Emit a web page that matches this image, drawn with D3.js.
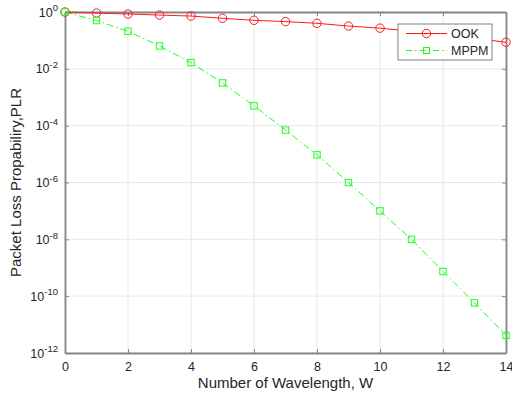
<!DOCTYPE html>
<html>
<head>
<meta charset="utf-8">
<script src="https://cdn.jsdelivr.net/npm/d3@7"></script>
<style>
  html, body { margin: 0; padding: 0; background: #fff; }
  svg { display: block; font-family: "Liberation Sans", Arial, Helvetica, sans-serif; }
</style>
</head>
<body>
<svg id="chart" width="512" height="400"></svg>
<script>
// ---- data ----
const wavelengths = [0, 1, 2, 3, 4, 5, 6, 7, 8, 9, 10, 11, 12, 13, 14];
const ookPLR = [1, 0.92, 0.85, 0.78, 0.72, 0.60, 0.51, 0.46, 0.40, 0.32, 0.27, 0.21, 0.16, 0.12, 0.086];
const mppmPLR = [1, 0.5, 0.21, 0.064, 0.0166, 0.0032, 5.0e-4, 7.0e-5, 9.4e-6, 1.0e-6, 1.0e-7, 1.0e-8, 7.4e-10, 5.8e-11, 4.2e-12];
const xTicks = [0, 2, 4, 6, 8, 10, 12, 14];
const yTickExponents = [0, -2, -4, -6, -8, -10, -12];
const seriesNames = ["OOK", "MPPM"];

// ---- layout ----
const svg = d3.select("#chart");
const L = 65, R = 506, T = 12, B = 353;
const x = d3.scaleLinear().domain([0, 14]).range([L, R]);
const y = d3.scaleLog().domain([1e-12, 1]).range([B, T]);
const yTicks = yTickExponents.map(e => Math.pow(10, e));

const axisColor = "#868686";
const textColor = "#262626";
const gridColor = "#e8e8e8";

// grid
const grid = svg.append("g");
grid.selectAll(".gx").data(xTicks).enter().append("line")
  .attr("x1", d => x(d)).attr("x2", d => x(d)).attr("y1", T).attr("y2", B)
  .attr("stroke", gridColor).attr("stroke-width", 1);
grid.selectAll(".gy").data(yTicks).enter().append("line")
  .attr("x1", L).attr("x2", R).attr("y1", d => y(d)).attr("y2", d => y(d))
  .attr("stroke", gridColor).attr("stroke-width", 1);

// axes (inward ticks, MATLAB box)
const tickLen = 4;
const xAxisB = d3.axisBottom(x).tickValues(xTicks).tickSizeInner(-tickLen).tickSizeOuter(0).tickPadding(9);
const gxB = svg.append("g").attr("transform", `translate(0,${B})`).call(xAxisB);
const xAxisT = d3.axisTop(x).tickValues(xTicks).tickSizeInner(-tickLen).tickSizeOuter(0).tickFormat("");
const gxT = svg.append("g").attr("transform", `translate(0,${T})`).call(xAxisT);
const yAxisL = d3.axisLeft(y).tickValues(yTicks).tickSizeInner(-tickLen).tickSizeOuter(0).tickPadding(8).tickFormat("");
const gyL = svg.append("g").attr("transform", `translate(${L},0)`).call(yAxisL);
const yAxisR = d3.axisRight(y).tickValues(yTicks).tickSizeInner(-tickLen).tickSizeOuter(0).tickFormat("");
const gyR = svg.append("g").attr("transform", `translate(${R},0)`).call(yAxisR);

[gxB, gxT, gyL, gyR].forEach(g => {
  g.select(".domain").attr("stroke", axisColor).attr("stroke-width", 1.8);
  g.selectAll(".tick line").attr("stroke", axisColor).attr("stroke-width", 1);
});
gxB.selectAll(".tick text").attr("fill", textColor).attr("font-size", 12.5)
  .attr("font-family", "Liberation Sans, Arial, sans-serif");

// y tick labels with superscripts
gyL.selectAll(".tick").each(function(d, i) {
  const t = d3.select(this).append("text")
    .attr("x", -7).attr("dy", "0.32em").attr("text-anchor", "end")
    .attr("fill", textColor).attr("font-size", 12.5);
  t.append("tspan").text("10");
  t.append("tspan").attr("dy", "-0.55em").attr("font-size", 9.5).text(String(yTickExponents[i]));
});

// series lines
const line = d3.line().x((d, i) => x(wavelengths[i])).y(d => y(d));
const plot = svg.append("g");
plot.append("path").datum(ookPLR).attr("d", line)
  .attr("fill", "none").attr("stroke", "#ff1a1a").attr("stroke-width", 1);
plot.append("path").datum(mppmPLR).attr("d", line)
  .attr("fill", "none").attr("stroke", "#1aff1a").attr("stroke-width", 1)
  .attr("stroke-dasharray", "7,3,1.5,3");

// markers
plot.selectAll(".ook").data(ookPLR).enter().append("circle")
  .attr("cx", (d, i) => x(wavelengths[i])).attr("cy", d => y(d)).attr("r", 4.2)
  .attr("fill", "none").attr("stroke", "#ff1a1a").attr("stroke-width", 1);
const sq = 6.4;
plot.selectAll(".mppm").data(mppmPLR).enter().append("rect")
  .attr("x", (d, i) => x(wavelengths[i]) - sq / 2).attr("y", d => y(d) - sq / 2)
  .attr("width", sq).attr("height", sq)
  .attr("fill", "none").attr("stroke", "#1aff1a").attr("stroke-width", 1);

// axis labels
svg.append("text").attr("x", (L + R) / 2).attr("y", 388).attr("text-anchor", "middle")
  .attr("fill", textColor).attr("font-size", 15).text("Number of Wavelength, W");
svg.append("text").attr("transform", `translate(21,${(T + B) / 2}) rotate(-90)`)
  .attr("text-anchor", "middle").attr("fill", textColor).attr("font-size", 15)
  .text("Packet Loss Propabiliry,PLR");

// legend
const lg = svg.append("g").attr("transform", "translate(398,24)");
lg.append("rect").attr("x", 0).attr("y", 0).attr("width", 94).attr("height", 36)
  .attr("fill", "#fff").attr("stroke", "#808080").attr("stroke-width", 1);
const legendStyles = [
  { color: "#ff1a1a", dash: null, marker: "circle" },
  { color: "#1aff1a", dash: "6,3,1.5,3", marker: "square" }
];
seriesNames.forEach((name, i) => {
  const cy = 9.5 + i * 17;
  const st = legendStyles[i];
  lg.append("line").attr("x1", 8).attr("x2", 49).attr("y1", cy).attr("y2", cy)
    .attr("stroke", st.color).attr("stroke-width", 1)
    .attr("stroke-dasharray", st.dash);
  if (st.marker === "circle") {
    lg.append("circle").attr("cx", 28.5).attr("cy", cy).attr("r", 4.2)
      .attr("fill", "none").attr("stroke", st.color);
  } else {
    lg.append("rect").attr("x", 28.5 - 3).attr("y", cy - 3).attr("width", 6).attr("height", 6)
      .attr("fill", "none").attr("stroke", st.color);
  }
  lg.append("text").attr("x", 53).attr("y", cy).attr("dy", "0.35em")
    .attr("fill", textColor).attr("font-size", 12.5).text(name);
});
</script>
</body>
</html>
